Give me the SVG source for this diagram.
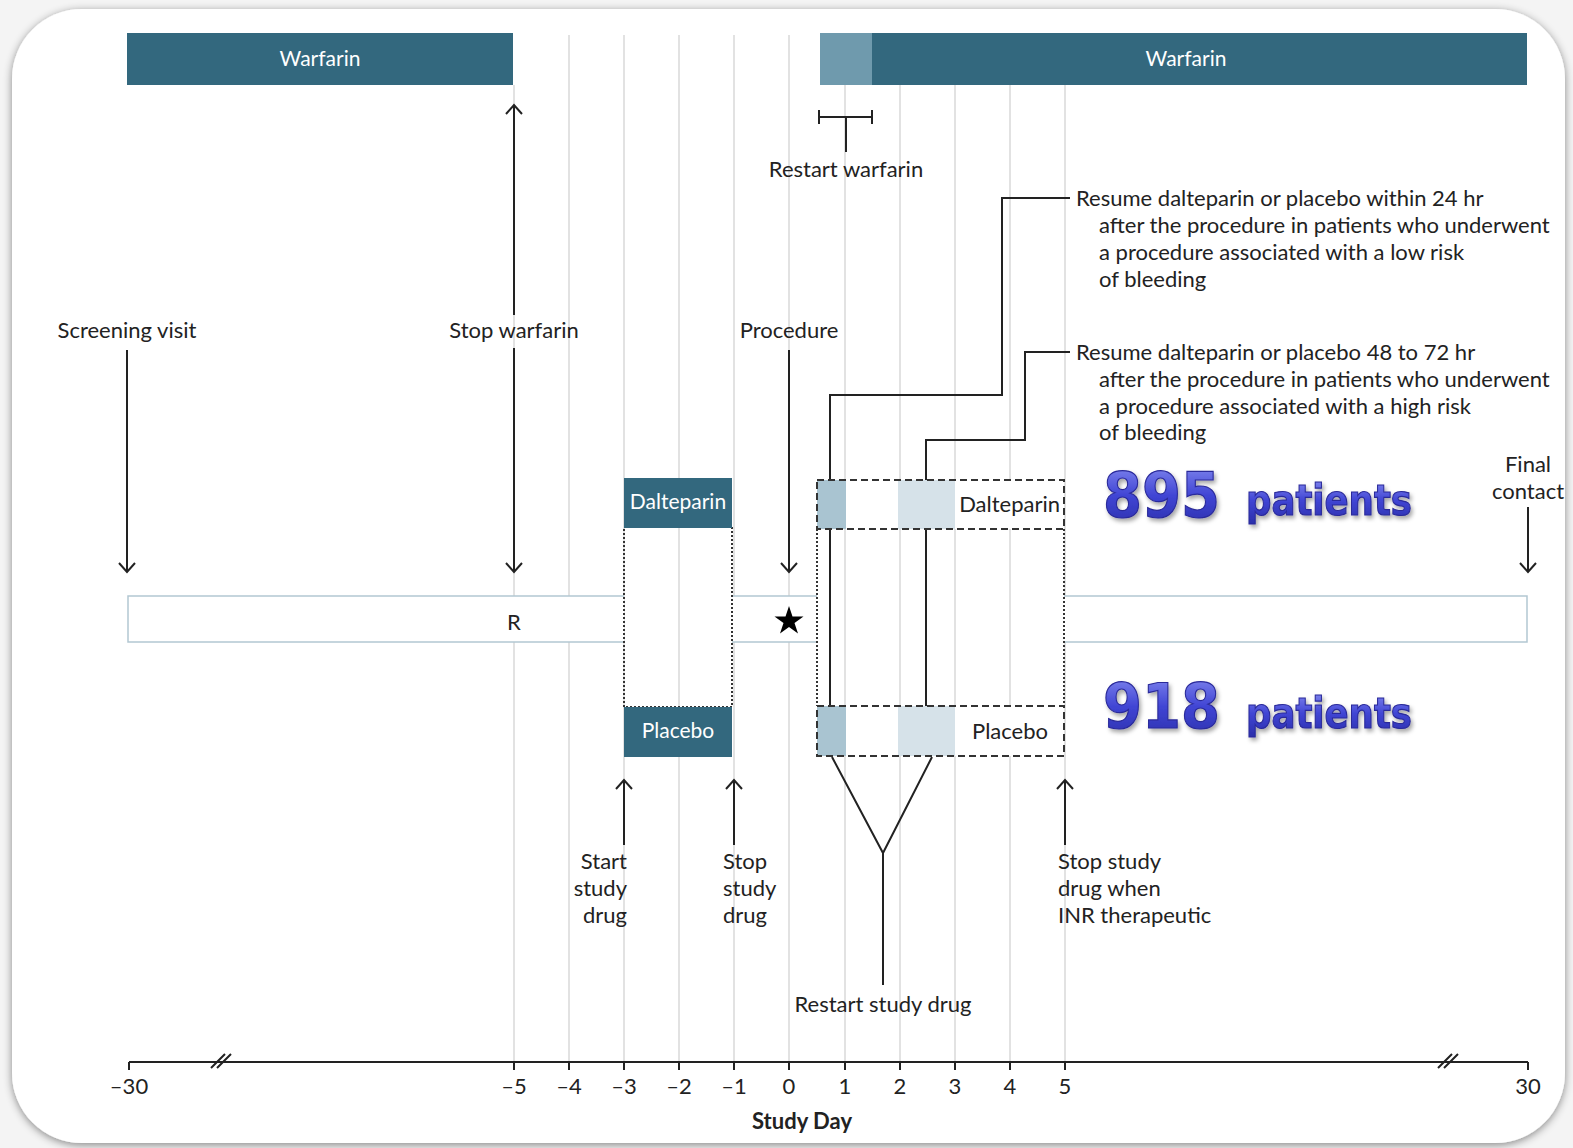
<svg xmlns="http://www.w3.org/2000/svg" width="1573" height="1148" viewBox="0 0 1573 1148">
<defs>
<style>
.t{font-family:Lato,"Open Sans","Liberation Sans",sans-serif;font-size:22px;fill:#222}
.w{font-family:Lato,"Open Sans","Liberation Sans",sans-serif;font-size:21px;fill:#fff}
.g{stroke:#d8d8d8;stroke-width:1.5}
.ln{stroke:#222;stroke-width:2;fill:none}
.big{font-family:"DejaVu Sans","Liberation Sans",sans-serif;font-weight:bold;fill:url(#blue);stroke:#2a2a9a;stroke-width:1.2}
.dark{fill:#33687e}
</style>
<linearGradient id="blue" x1="0" y1="0" x2="0" y2="1">
<stop offset="0" stop-color="#8a90f2"/><stop offset="0.5" stop-color="#4045d4"/><stop offset="1" stop-color="#2a2ea8"/>
</linearGradient>
<filter id="sh" x="-5%" y="-5%" width="110%" height="110%"><feDropShadow dx="0" dy="2" stdDeviation="4" flood-color="#000" flood-opacity="0.45"/></filter>
<filter id="tsh" x="-10%" y="-20%" width="120%" height="150%"><feDropShadow dx="2" dy="3" stdDeviation="2" flood-color="#000" flood-opacity="0.35"/></filter>
<marker id="ah" viewBox="0 0 20 20" refX="10" refY="10" markerWidth="20" markerHeight="20" markerUnits="userSpaceOnUse" orient="auto"><path d="M1,2 L10,10 L1,18" fill="none" stroke="#222" stroke-width="2"/></marker>
</defs>
<rect width="1573" height="1148" fill="#f4f4f4"/>
<rect x="12" y="9" width="1553" height="1134" rx="70" fill="#fff" filter="url(#sh)"/>

<g id="grid">
<line class="g" x1="514" y1="85" x2="514" y2="1062"/>
<line class="g" x1="569" y1="35" x2="569" y2="1062"/>
<line class="g" x1="624" y1="35" x2="624" y2="1062"/>
<line class="g" x1="679" y1="35" x2="679" y2="1062"/>
<line class="g" x1="734" y1="35" x2="734" y2="1062"/>
<line class="g" x1="789" y1="35" x2="789" y2="1062"/>
<line class="g" x1="845" y1="85" x2="845" y2="1062"/>
<line class="g" x1="900" y1="85" x2="900" y2="1062"/>
<line class="g" x1="955" y1="85" x2="955" y2="1062"/>
<line class="g" x1="1010" y1="85" x2="1010" y2="1062"/>
<line class="g" x1="1065" y1="85" x2="1065" y2="1062"/>
</g>

<g id="warfarin-left">
<rect class="dark" x="127" y="33" width="386" height="52"/>
<text class="w" x="320" y="66" text-anchor="middle">Warfarin</text>
</g>
<g id="warfarin-right">
<rect class="dark" x="820" y="33" width="707" height="52"/>
<rect x="820" y="33" width="52" height="52" fill="#6f9aad"/>
<text class="w" x="1186" y="66" text-anchor="middle">Warfarin</text>
</g>

<g id="timeline">
<rect x="128" y="596" width="496" height="46" fill="#fff"/>
<rect x="732" y="596" width="85" height="46" fill="#fff"/>
<rect x="1064" y="596" width="463" height="46" fill="#fff"/>
<path d="M624,596 H128 V642 H624 M732,596 H817 M732,642 H817 M1064,596 H1527 V642 H1064" fill="none" stroke="#b3c7d2" stroke-width="1.5"/>
<text class="t" x="514" y="630" text-anchor="middle">R</text>
<path d="M789,606 l3.5,10.5 h11 l-9,6.5 l3.5,10.5 l-9,-6.5 l-9,6.5 l3.5,-10.5 l-9,-6.5 h11 z" fill="#000"/>
</g>

<g id="connectors">
<line class="ln" x1="127" y1="350" x2="127" y2="572" marker-end="url(#ah)"/>
<line class="ln" x1="514" y1="315" x2="514" y2="105" marker-end="url(#ah)"/>
<line class="ln" x1="514" y1="348" x2="514" y2="572" marker-end="url(#ah)"/>
<line class="ln" x1="789" y1="350" x2="789" y2="572" marker-end="url(#ah)"/>
<line class="ln" x1="1528" y1="507" x2="1528" y2="572" marker-end="url(#ah)"/>
<path class="ln" d="M819,117 H872 M819,110 V124 M872,110 V124 M846,117 V152"/>
<path class="ln" d="M830,706 V395 H1002 V198 H1070"/>
<path class="ln" d="M926,706 V440 H1025 V352 H1070"/>
<path class="ln" d="M832,757 L883,853 L932,757 M883,853 V985"/>
<line class="ln" x1="624" y1="845" x2="624" y2="780" marker-end="url(#ah)"/>
<line class="ln" x1="734" y1="845" x2="734" y2="780" marker-end="url(#ah)"/>
<line class="ln" x1="1065" y1="845" x2="1065" y2="780" marker-end="url(#ah)"/>
</g>

<g id="left-study-drug">
<rect x="624" y="527" width="108" height="180" fill="none" stroke="#333" stroke-width="2" stroke-dasharray="2,2"/>
<rect class="dark" x="624" y="478" width="108" height="50"/>
<text class="w" x="678" y="509" text-anchor="middle">Dalteparin</text>
<rect class="dark" x="624" y="707" width="108" height="50"/>
<text class="w" x="678" y="738" text-anchor="middle">Placebo</text>
</g>

<g id="right-study-drug">
<line x1="817" y1="529" x2="817" y2="706" stroke="#333" stroke-width="2" stroke-dasharray="2,2"/>
<line x1="1064" y1="529" x2="1064" y2="706" stroke="#333" stroke-width="2" stroke-dasharray="2,2"/>
<rect x="817" y="480" width="247" height="49" fill="#fff"/>
<rect x="817" y="480" width="29" height="49" fill="#a9c4d1"/>
<rect x="898" y="480" width="57" height="49" fill="#d6e2e9"/>
<rect x="817" y="480" width="247" height="49" fill="none" stroke="#333" stroke-width="2" stroke-dasharray="7,4"/>
<text class="t" x="1060" y="512" text-anchor="end">Dalteparin</text>
<rect x="817" y="706" width="247" height="50" fill="#fff"/>
<rect x="817" y="706" width="29" height="50" fill="#a9c4d1"/>
<rect x="898" y="706" width="57" height="50" fill="#d6e2e9"/>
<rect x="817" y="706" width="247" height="50" fill="none" stroke="#333" stroke-width="2" stroke-dasharray="7,4"/>
<text class="t" x="1010" y="739" text-anchor="middle">Placebo</text>
</g>

<g id="labels">
<text class="t" x="127" y="338" text-anchor="middle">Screening visit</text>
<text class="t" x="514" y="338" text-anchor="middle">Stop warfarin</text>
<text class="t" x="789" y="338" text-anchor="middle">Procedure</text>
<text class="t" x="846" y="177" text-anchor="middle">Restart warfarin</text>
<text class="t" x="1076" y="206">Resume dalteparin or placebo within 24 hr</text>
<text class="t" x="1099" y="233">after the procedure in patients who underwent</text>
<text class="t" x="1099" y="260">a procedure associated with a low risk</text>
<text class="t" x="1099" y="287">of bleeding</text>
<text class="t" x="1076" y="360">Resume dalteparin or placebo 48 to 72 hr</text>
<text class="t" x="1099" y="387">after the procedure in patients who underwent</text>
<text class="t" x="1099" y="414">a procedure associated with a high risk</text>
<text class="t" x="1099" y="440">of bleeding</text>
<text class="t" x="1528" y="472" text-anchor="middle">Final</text>
<text class="t" x="1528" y="499" text-anchor="middle">contact</text>
<text class="t" x="627" y="869" text-anchor="end">Start</text>
<text class="t" x="627" y="896" text-anchor="end">study</text>
<text class="t" x="627" y="923" text-anchor="end">drug</text>
<text class="t" x="723" y="869">Stop</text>
<text class="t" x="723" y="896">study</text>
<text class="t" x="723" y="923">drug</text>
<text class="t" x="1058" y="869">Stop study</text>
<text class="t" x="1058" y="896">drug when</text>
<text class="t" x="1058" y="923">INR therapeutic</text>
<text class="t" x="883" y="1012" text-anchor="middle">Restart study drug</text>
</g>

<g id="patients" filter="url(#tsh)">
<text class="big" x="1103" y="517" font-size="62" textLength="117" lengthAdjust="spacingAndGlyphs">895</text>
<text class="big" x="1246" y="515" font-size="42" textLength="166" lengthAdjust="spacingAndGlyphs">patients</text>
<text class="big" x="1103" y="728" font-size="62" textLength="117" lengthAdjust="spacingAndGlyphs">918</text>
<text class="big" x="1246" y="728" font-size="42" textLength="166" lengthAdjust="spacingAndGlyphs">patients</text>
</g>

<g id="axis">
<path class="ln" d="M129,1062 H1528 M129,1062 V1070 M514,1062 V1070 M569,1062 V1070 M624,1062 V1070 M679,1062 V1070 M734,1062 V1070 M789,1062 V1070 M845,1062 V1070 M900,1062 V1070 M955,1062 V1070 M1010,1062 V1070 M1065,1062 V1070 M1528,1062 V1070"/>
<path class="ln" d="M211,1068 L225,1054 M217,1068 L231,1054 M1438,1068 L1452,1054 M1444,1068 L1458,1054"/>
<g class="t" text-anchor="middle">
<text x="129" y="1094">–30</text>
<text x="514" y="1094">–5</text>
<text x="569" y="1094">–4</text>
<text x="624" y="1094">–3</text>
<text x="679" y="1094">–2</text>
<text x="734" y="1094">–1</text>
<text x="789" y="1094">0</text>
<text x="845" y="1094">1</text>
<text x="900" y="1094">2</text>
<text x="955" y="1094">3</text>
<text x="1010" y="1094">4</text>
<text x="1065" y="1094">5</text>
<text x="1528" y="1094">30</text>
</g>
<text class="t" x="802" y="1129" text-anchor="middle" font-weight="bold">Study Day</text>
</g>
</svg>
